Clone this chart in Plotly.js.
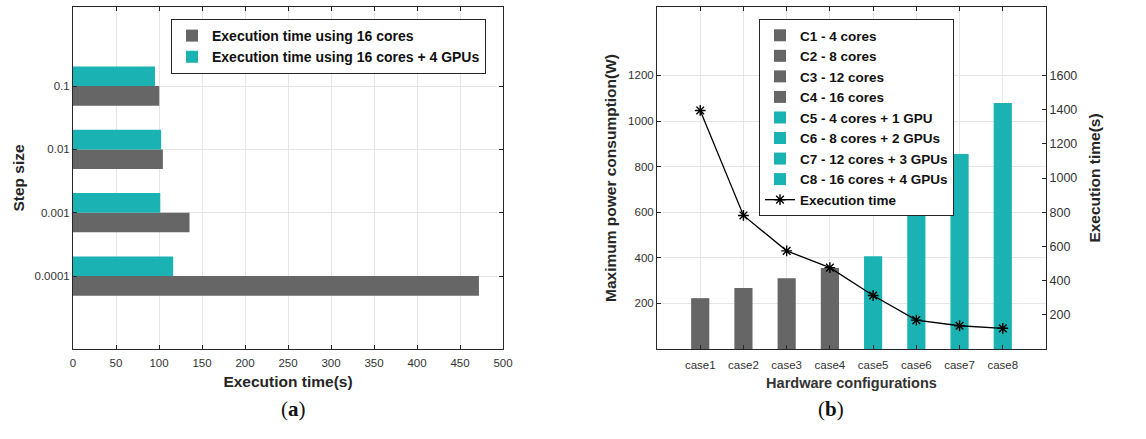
<!DOCTYPE html>
<html>
<head>
<meta charset="utf-8">
<script src="https://cdn.plot.ly/plotly-3.0.1.min.js"></script>
<style>html,body{margin:0;padding:0;background:#fff;}#chart{width:1146px;height:439px;}</style>
</head>
<body>
<div id="chart"></div>
<script>
// ---- Data: panel (a) ----
const stepSizes = ['0.0001', '0.001', '0.01', '0.1'];
const time16Cores = [472, 135.5, 104.5, 100.3];
const time16CoresGpu = [116.5, 101.5, 102.5, 95.3];
const seriesNamesA = ['Execution time using 16 cores', 'Execution time using 16 cores + 4 GPUs'];
const xTicksA = [0, 50, 100, 150, 200, 250, 300, 350, 400, 450, 500];

// ---- Data: panel (b) ----
const cases = ['case1', 'case2', 'case3', 'case4', 'case5', 'case6', 'case7', 'case8'];
const configNames = ['C1 - 4 cores', 'C2 - 8 cores', 'C3 - 12 cores', 'C4 - 16 cores',
  'C5 - 4 cores + 1 GPU', 'C6 - 8 cores + 2 GPUs', 'C7 - 12 cores + 3 GPUs', 'C8 - 16 cores + 4 GPUs'];
const maxPower = [223, 267, 310, 355, 407, 628, 855, 1079];
const execTime = [1395, 781, 574, 476, 313, 169, 136, 121];
const powerTicks = [200, 400, 600, 800, 1000, 1200];
const timeTicks = [200, 400, 600, 800, 1000, 1200, 1400, 1600];

const GRAY = '#666666';
const TEAL = '#1ab2b2';
const AX = '#262626';
const FONT = 'Liberation Sans, Arial, Helvetica, sans-serif';

const traces = [];
// panel (a)
traces.push({
  type: 'bar', orientation: 'h', name: seriesNamesA[0],
  y: stepSizes, x: time16Cores, xaxis: 'x', yaxis: 'y',
  marker: {color: GRAY}, width: 0.31, offset: -0.31, legend: 'legend'
});
traces.push({
  type: 'bar', orientation: 'h', name: seriesNamesA[1],
  y: stepSizes, x: time16CoresGpu, xaxis: 'x', yaxis: 'y',
  marker: {color: TEAL}, width: 0.31, offset: 0, legend: 'legend'
});
// panel (b)
for (let i = 0; i < cases.length; i++) {
  traces.push({
    type: 'bar', name: configNames[i], x: [cases[i]], y: [maxPower[i]],
    xaxis: 'x2', yaxis: 'y2', width: 0.42,
    marker: {color: i < 4 ? GRAY : TEAL}, legend: 'legend2'
  });
}
traces.push({
  type: 'scatter', mode: 'lines+markers', name: 'Execution time',
  x: cases, y: execTime, xaxis: 'x2', yaxis: 'y3',
  line: {color: '#000', width: 1.3},
  marker: {symbol: 'asterisk-open', size: 9, color: '#000', line: {color: '#000', width: 1.4}},
  legend: 'legend2'
});

const tickFont = {family: FONT, size: 11.5, color: '#333'};
const titleFont = {family: FONT, size: 15.5, color: AX, weight: 'bold'};
const titleFontHw = {family: FONT, size: 14.5, color: '#333', weight: 'bold'};

const layout = {
  width: 1146, height: 439,
  margin: {l: 0, r: 0, t: 0, b: 0},
  paper_bgcolor: '#fff', plot_bgcolor: '#fff',
  barmode: 'overlay',
  font: {family: FONT},
  xaxis: {
    domain: [73/1146, 503/1146], anchor: 'y',
    range: [0, 500], tickvals: xTicksA, ticks: 'inside', ticklen: 4, tickcolor: AX,
    showline: true, linecolor: AX, linewidth: 1, mirror: 'ticks',
    showgrid: true, gridcolor: '#e6e6e6', zeroline: false,
    tickfont: tickFont, ticklabelstandoff: 3,
    title: {text: 'Execution time(s)', font: titleFont, standoff: 8}
  },
  yaxis: {
    domain: [90/439, 432/439], anchor: 'x',
    type: 'category', categoryorder: 'array', categoryarray: stepSizes,
    range: [-1.153, 4.25], ticks: 'inside', ticklen: 4, tickcolor: AX,
    showline: true, linecolor: AX, linewidth: 1, mirror: 'ticks',
    showgrid: true, gridcolor: '#e6e6e6', zeroline: false,
    tickfont: tickFont,
    title: {text: 'Step size', font: titleFont, standoff: 6}
  },
  xaxis2: {
    domain: [657/1146, 1046/1146], anchor: 'y2',
    type: 'category', categoryorder: 'array', categoryarray: cases,
    range: [-1, 8], ticks: 'inside', ticklen: 4, tickcolor: AX,
    showline: true, linecolor: AX, linewidth: 1, mirror: 'ticks',
    showgrid: true, gridcolor: '#e6e6e6', zeroline: false,
    tickfont: tickFont, ticklabelstandoff: 5,
    title: {text: 'Hardware configurations', font: titleFontHw, standoff: 8}
  },
  yaxis2: {
    domain: [90/439, 432/439], anchor: 'x2',
    range: [0, 1500], tickvals: powerTicks, ticks: 'inside', ticklen: 4, tickcolor: AX,
    showline: true, linecolor: AX, linewidth: 1, mirror: false,
    showgrid: true, gridcolor: '#e6e6e6', zeroline: false,
    tickfont: tickFont,
    title: {text: 'Maximum power consumption(W)', font: titleFont, standoff: 7}
  },
  yaxis3: {
    overlaying: 'y2', side: 'right', anchor: 'x2',
    range: [0, 2000], tickvals: timeTicks, ticks: 'inside', ticklen: 4, tickcolor: AX,
    showline: true, linecolor: AX, linewidth: 1,
    showgrid: false, zeroline: false,
    tickfont: {family: FONT, size: 12.5, color: '#333'}, ticklabelstandoff: 0,
    title: {text: 'Execution time(s)', font: titleFont, standoff: 12}
  },
  legend: {
    x: 171/1146, y: 1 - 19/439, xanchor: 'left', yanchor: 'top',
    bgcolor: '#fff', bordercolor: AX, borderwidth: 1,
    font: {family: FONT, size: 14, color: '#111', weight: 'bold'},
    tracegroupgap: 0, itemwidth: 30, traceorder: 'normal'
  },
  legend2: {
    x: 759/1146, y: 1 - 19/439, xanchor: 'left', yanchor: 'top',
    bgcolor: '#fff', bordercolor: AX, borderwidth: 1,
    font: {family: FONT, size: 13.5, color: '#111', weight: 'bold'},
    tracegroupgap: 0, itemwidth: 30, traceorder: 'normal'
  },
  annotations: [
    {text: '(<b>a</b>)', xref: 'paper', yref: 'paper', x: 279/1146, y: 1 - 423/439,
     showarrow: false, font: {family: 'Liberation Serif, DejaVu Serif, serif', size: 21, color: '#111'}},
    {text: '(<b>b</b>)', xref: 'paper', yref: 'paper', x: 846/1146, y: 1 - 423/439,
     showarrow: false, font: {family: 'Liberation Serif, DejaVu Serif, serif', size: 21, color: '#111'}}
  ],
  showlegend: true
};

Plotly.newPlot('chart', traces, layout, {displayModeBar: false, staticPlot: true});
</script>
</body>
</html>
